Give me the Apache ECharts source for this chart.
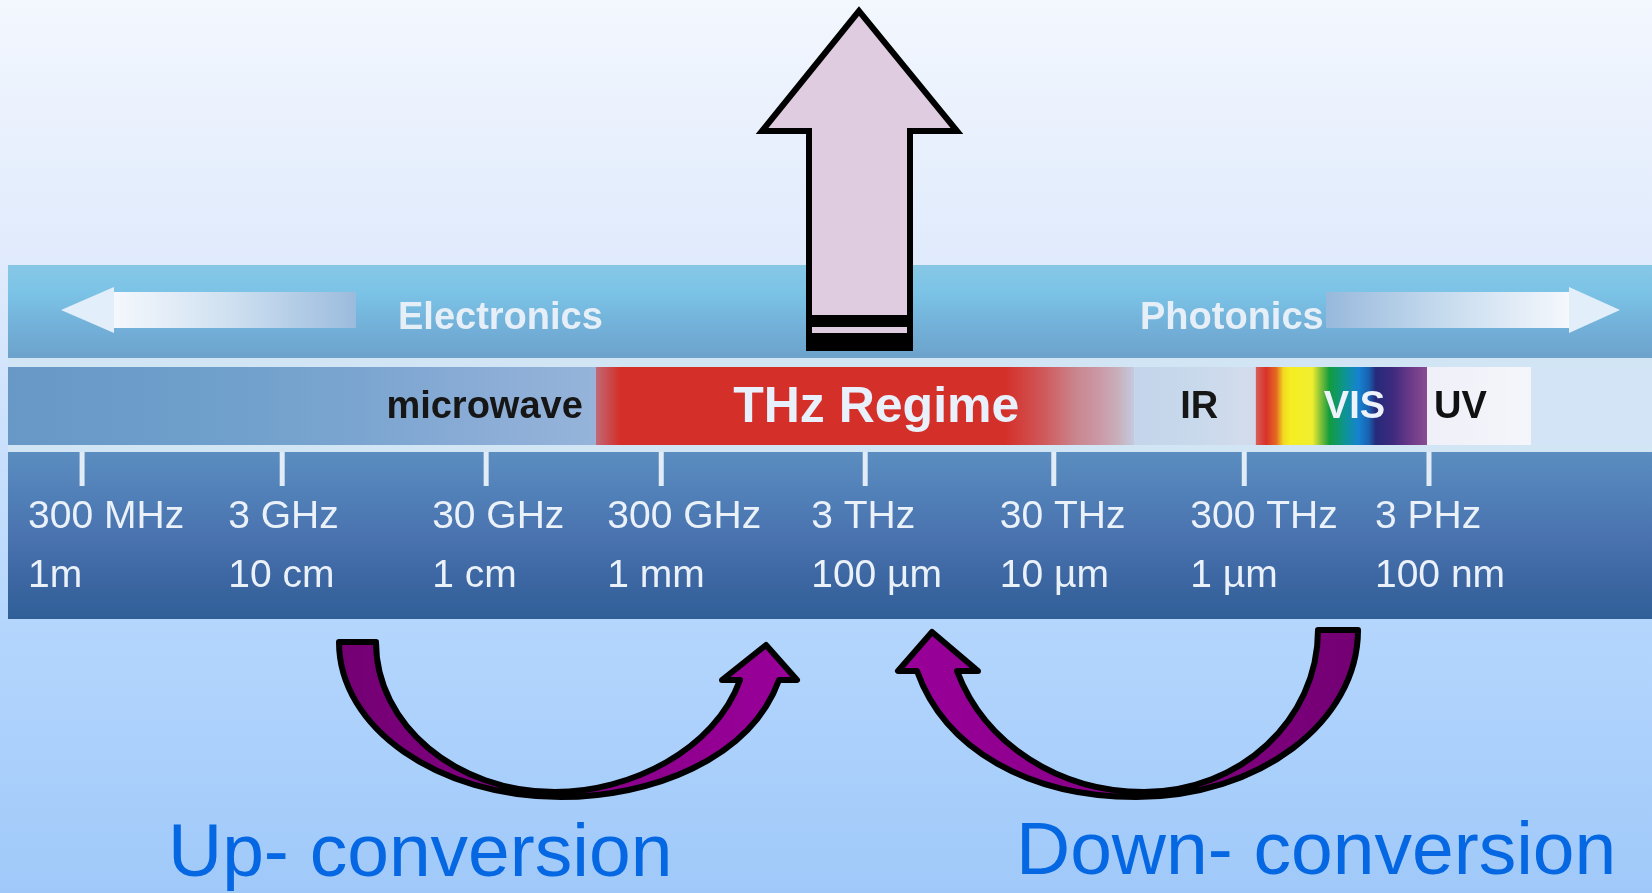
<!DOCTYPE html>
<html>
<head>
<meta charset="utf-8">
<title>THz regime</title>
<script src="https://cdn.jsdelivr.net/npm/echarts@6/dist/echarts.min.js"></script>
<style>
  html, body { margin: 0; padding: 0; }
  #spectrum { width: 1652px; height: 893px; }
</style>
</head>
<body>
<div id="spectrum"></div>
<script>
// tick marks along the band, in decades above 300 MHz (as drawn in the figure)
const tickDecades = [0, 1.04, 2.10, 3.01, 4.07, 5.05, 6.04, 7.00]
const freqLabels = ['300 MHz', '3 GHz', '30 GHz', '300 GHz', '3 THz', '30 THz', '300 THz', '3 PHz']
const waveLabels = ['1m', '10 cm', '1 cm', '1 mm', '100 \u00b5m', '10 \u00b5m', '1 \u00b5m', '100 nm']

// regions of the middle strip, decades
const regionNames = ['microwave', 'THz Regime', 'IR', 'VIS', 'UV', '']
const regionStart = [-0.385, 2.67, 5.47, 6.10, 6.99, 7.53]
const regionEnd = [2.67, 5.47, 6.10, 6.99, 7.53, 8.159]

const FONT = '"Liberation Sans", Arial, sans-serif'

// fill of each region (left -> right)
const regionStops = [
  [[0, '#6898c5'], [0.35, '#6f9fcb'], [0.6, '#7ba5d0'], [0.85, '#8daed7'], [1, '#96b4da']],
  [[0, '#c06a78'], [0.045, '#d42f28'], [0.76, '#d4302a'], [0.83, '#d0585a'], [0.895, '#c98890'],
    [0.935, '#cc98a6'], [0.97, '#c8b0bc'], [1, '#c4cbe0']],
  [[0, '#c4d4ea'], [0.5, '#c8d9ec'], [1, '#d4dcec']],
  [[0, '#d6605a'], [0.06, '#d8322a'], [0.12, '#e56a22'], [0.16, '#f2d820'], [0.2, '#f5ee22'],
    [0.33, '#f0ee30'], [0.38, '#80c03a'], [0.43, '#129c3c'], [0.52, '#0d9494'], [0.6, '#1682d0'],
    [0.66, '#1a60b0'], [0.7, '#262a7a'], [0.8, '#3e2a7e'], [0.9, '#6a3a88'], [1, '#8a4c92']],
  [[0, '#eff0f8'], [1, '#f5f6fb']],
  [[0, '#d3e4f6'], [1, '#d3e4f6']]
]
// how each region name is placed: anchor, pixel shift, colour, size
const regionText = [
  { anchor: 'end', dx: -13, fill: '#161616', size: 38 },
  { anchor: 'mid', dx: 11, fill: '#e8f0fb', size: 50 },
  { anchor: 'mid', dx: 4, fill: '#161616', size: 38 },
  { anchor: 'mid', dx: 13, fill: '#eef3fb', size: 38 },
  { anchor: 'start', dx: 7, fill: '#111111', size: 38 },
  { anchor: 'mid', dx: 0, fill: '#000', size: 38 }
]

function linear (stops, vertical) {
  return {
    type: 'linear', x: 0, y: 0, x2: vertical ? 0 : 1, y2: vertical ? 1 : 0,
    colorStops: stops.map(s => ({ offset: s[0], color: s[1] }))
  }
}

function txt (text, x, y, font, fill, align) {
  return {
    type: 'text',
    x: x,
    y: y,
    style: {
      text: text, font: font, fill: fill,
      align: align || 'left', textAlign: align || 'left',
      verticalAlign: 'middle', textVerticalAlign: 'middle'
    }
  }
}

const chart = echarts.init(document.getElementById('spectrum'))

const option = {
  animation: false,
  grid: { left: 8, right: 0, top: 0, bottom: 0 },
  xAxis: { type: 'value', min: -0.385, max: 8.159, show: false },
  yAxis: { type: 'value', min: 0, max: 893, inverse: true, show: false },
  graphic: [
    {
      type: 'rect', z: 0, silent: true,
      shape: { x: 0, y: 0, width: 1652, height: 893 },
      style: { fill: linear([[0, '#f3f7fe'], [0.3, '#dfeafc'], [0.7, '#b4d6fd'], [1, '#a0c9f9']], true) }
    },
    {
      type: 'rect', z: 1,
      shape: { x: 8, y: 265, width: 1644, height: 93 },
      style: { fill: linear([[0, '#86c7e6'], [0.3, '#7bc3e6'], [0.6, '#74b3db'], [1, '#6ca2cc']], true) }
    },
    {
      type: 'rect', z: 1,
      shape: { x: 8, y: 358, width: 1644, height: 94 },
      style: { fill: '#d1e5f5' }
    },
    {
      type: 'rect', z: 1,
      shape: { x: 8, y: 452, width: 1644, height: 167 },
      style: { fill: linear([[0, '#5b8dc0'], [0.25, '#5180b8'], [0.5, '#4a73af'], [0.75, '#3d67a2'], [1, '#305f98']], true) }
    },
    // Electronics / Photonics arrows
    {
      type: 'rect', z: 5,
      shape: { x: 114, y: 292, width: 242, height: 36 },
      style: { fill: linear([[0, '#f5f8fd'], [0.5, '#cddff0'], [1, '#9bbbdd']]) }
    },
    {
      type: 'polygon', z: 5,
      shape: { points: [[61, 310], [114, 287], [114, 333]] },
      style: { fill: '#e3eefb' }
    },
    {
      type: 'rect', z: 5,
      shape: { x: 1326, y: 292, width: 243, height: 36 },
      style: { fill: linear([[0, '#98b9dc'], [0.5, '#c8dcef'], [1, '#f5f8fd']]) }
    },
    {
      type: 'polygon', z: 5,
      shape: { points: [[1569, 287], [1620, 310], [1569, 333]] },
      style: { fill: '#e3eefb' }
    },
    Object.assign(txt('Electronics', 398, 319, 'bold 38px ' + FONT, '#e6eff8'), { z: 5 }),
    Object.assign(txt('Photonics', 1140, 319, 'bold 38px ' + FONT, '#e6eff8'), { z: 5 }),
    // big arrow out of the THz regime
    {
      type: 'polygon', z: 8,
      shape: { points: [[859, 11], [762, 131], [809, 131], [809, 348], [910, 348], [910, 131], [957, 131]] },
      style: { fill: '#dfcce0', stroke: '#000', lineWidth: 6, lineJoin: 'miter' }
    },
    { type: 'rect', z: 9, shape: { x: 809, y: 315, width: 101, height: 12 }, style: { fill: '#000' } },
    { type: 'rect', z: 9, shape: { x: 809, y: 333, width: 101, height: 18 }, style: { fill: '#000' } },
    Object.assign(txt('Up- conversion', 168, 855, '75px ' + FONT, '#0567e2'), { z: 5 }),
    Object.assign(txt('Down- conversion', 1016, 853, '75px ' + FONT, '#0567e2'), { z: 5 })
  ],
  series: [
    {
      type: 'custom',
      z: 3,
      clip: false,
      encode: { x: [0, 1], y: 2 },
      data: regionNames.map((n, i) => [regionStart[i], regionEnd[i], 406]),
      renderItem (params, api) {
        const i = params.dataIndex
        const a = api.coord([api.value(0), 367])
        const b = api.coord([api.value(1), 445])
        const children = [{
          type: 'rect',
          shape: { x: a[0], y: a[1], width: b[0] - a[0], height: b[1] - a[1] },
          style: { fill: linear(regionStops[i]) }
        }]
        const t = regionText[i]
        if (regionNames[i]) {
          let x = (a[0] + b[0]) / 2
          let align = 'center'
          if (t.anchor === 'end') { x = b[0]; align = 'right' }
          if (t.anchor === 'start') { x = a[0]; align = 'left' }
          children.push(txt(regionNames[i], x + t.dx, 408, 'bold ' + t.size + 'px ' + FONT, t.fill, align))
        }
        return { type: 'group', children: children }
      }
    },
    {
      type: 'custom',
      z: 4,
      clip: false,
      encode: { x: 0, y: 1 },
      data: tickDecades.map(d => [d, 452]),
      renderItem (params, api) {
        const i = params.dataIndex
        const p = api.coord([api.value(0), api.value(1)])
        return {
          type: 'group',
          children: [
            { type: 'rect', shape: { x: p[0] - 2.5, y: p[1], width: 5, height: 34 }, style: { fill: '#e2ecf7' } },
            txt(freqLabels[i], p[0] - 54, 517, '39px ' + FONT, '#ebf1f9'),
            txt(waveLabels[i], p[0] - 54, 576, '39px ' + FONT, '#ebf1f9')
          ]
        }
      }
    },
    {
      // up- and down-conversion arrows
      type: 'custom',
      z: 10,
      clip: false,
      encode: { x: 0, y: 1 },
      data: [[0, 0]],
      renderItem () {
        const stroke = { stroke: '#000', lineWidth: 6, lineJoin: 'round' }
        return {
          type: 'group',
          children: [
            {
              type: 'path',
              shape: {
                pathData: 'M339 642 L376 642 C376 725 456 792 555 792 C630 792 715 750 740 680 L722 680 L766 645 L797 680 L779 680 C750 760 650 797 561 797 C438 797 339 728 339 642 Z'
              },
              style: Object.assign({ fill: linear([[0, '#730073'], [1, '#9a009a']]) }, stroke)
            },
            {
              type: 'path',
              shape: {
                pathData: 'M1358 630 L1318 630 C1318 720 1240 792 1144 792 C1060 792 985 745 957 671 L978 671 L932 632 L898 671 L917 671 C945 750 1030 797 1136 797 C1259 797 1358 722 1358 630 Z'
              },
              style: Object.assign({ fill: linear([[0, '#9a009a'], [1, '#730073']]) }, stroke)
            }
          ]
        }
      }
    }
  ]
}

chart.setOption(option)
window.addEventListener('resize', () => {
  chart.resize()
})
</script>
</body>
</html>
